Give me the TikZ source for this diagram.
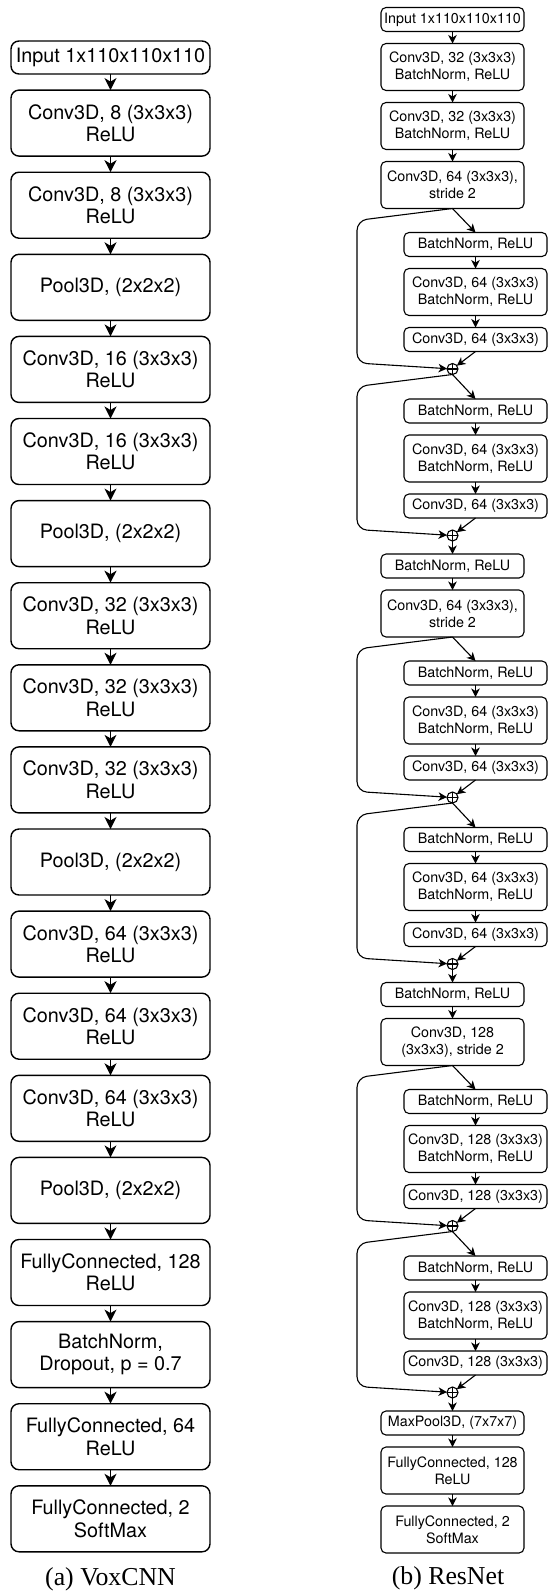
\documentclass[tikz,border=0pt]{standalone}
\usepackage{fontspec}
\setmainfont{TeX Gyre Heros}
\newfontfamily\capfont{Liberation Serif}
\usetikzlibrary{arrows.meta,positioning,calc}

\begin{document}
\begin{tikzpicture}[x=1pt, y=-1pt,
  every node/.style={outer sep=0pt},
  box/.style={draw, rounded corners=8pt, line width=1.4pt, align=center, inner sep=0pt,
    minimum width=199pt, minimum height=66pt, font=\fontsize{19.8}{22.3}\selectfont},
  inbox/.style={box, minimum height=33pt},
  rbox/.style={draw, rounded corners=5pt, line width=1.1pt, align=center, inner sep=0pt,
    minimum width=143pt, minimum height=47pt, font=\fontsize{14.3}{16.7}\selectfont},
  rthin/.style={rbox, minimum height=24pt},
  add/.style={draw, circle, line width=1.1pt, minimum size=11pt, inner sep=0pt,
    path picture={\draw[line width=1.1pt] (path picture bounding box.north) -- (path picture bounding box.south)
      (path picture bounding box.west) -- (path picture bounding box.east);}},
  arr/.style={-{Stealth[length=12pt, width=12pt, inset=3.5pt]}, line width=1.4pt},
  rarr/.style={-{Stealth[length=8.5pt, width=8.5pt, inset=2.5pt]}, line width=1.1pt},
  skip/.style={rarr, rounded corners=10pt},
  captext/.style={font=\capfont\fontsize{25.8}{30}\selectfont}
]
  \useasboundingbox (0,0) rectangle (548,1592);

  % (a) VoxCNN
  \node[inbox] (l0) at (110.5,57.5) {Input 1x110x110x110};
  \node[box, below=16.1pt of l0] (l1) {Conv3D, 8 (3x3x3)\\ReLU};
  \node[box, below=16.1pt of l1] (l2) {Conv3D, 8 (3x3x3)\\ReLU};
  \node[box, below=16.1pt of l2] (l3) {Pool3D, (2x2x2)};
  \node[box, below=16.1pt of l3] (l4) {Conv3D, 16 (3x3x3)\\ReLU};
  \node[box, below=16.1pt of l4] (l5) {Conv3D, 16 (3x3x3)\\ReLU};
  \node[box, below=16.1pt of l5] (l6) {Pool3D, (2x2x2)};
  \node[box, below=16.1pt of l6] (l7) {Conv3D, 32 (3x3x3)\\ReLU};
  \node[box, below=16.1pt of l7] (l8) {Conv3D, 32 (3x3x3)\\ReLU};
  \node[box, below=16.1pt of l8] (l9) {Conv3D, 32 (3x3x3)\\ReLU};
  \node[box, below=16.1pt of l9] (l10) {Pool3D, (2x2x2)};
  \node[box, below=16.1pt of l10] (l11) {Conv3D, 64 (3x3x3)\\ReLU};
  \node[box, below=16.1pt of l11] (l12) {Conv3D, 64 (3x3x3)\\ReLU};
  \node[box, below=16.1pt of l12] (l13) {Conv3D, 64 (3x3x3)\\ReLU};
  \node[box, below=16.1pt of l13] (l14) {Pool3D, (2x2x2)};
  \node[box, below=16.1pt of l14] (l15) {FullyConnected, 128\\ReLU};
  \node[box, below=16.1pt of l15] (l16) {BatchNorm,\\Dropout, p = 0.7};
  \node[box, below=16.1pt of l16] (l17) {FullyConnected, 64\\ReLU};
  \node[box, below=16.1pt of l17] (l18) {FullyConnected, 2\\SoftMax};

  \draw[arr] (l0) -- (l1);   \draw[arr] (l1) -- (l2);   \draw[arr] (l2) -- (l3);
  \draw[arr] (l3) -- (l4);   \draw[arr] (l4) -- (l5);   \draw[arr] (l5) -- (l6);
  \draw[arr] (l6) -- (l7);   \draw[arr] (l7) -- (l8);   \draw[arr] (l8) -- (l9);
  \draw[arr] (l9) -- (l10);  \draw[arr] (l10) -- (l11); \draw[arr] (l11) -- (l12);
  \draw[arr] (l12) -- (l13); \draw[arr] (l13) -- (l14); \draw[arr] (l14) -- (l15);
  \draw[arr] (l15) -- (l16); \draw[arr] (l16) -- (l17); \draw[arr] (l17) -- (l18);

  % (b) ResNet, main column
  \node[rthin] (rin) at (452.5,19.5) {Input 1x110x110x110};
  \node[rbox, below=12pt of rin] (rc1) {Conv3D, 32 (3x3x3)\\BatchNorm, ReLU};
  \node[rbox, below=12pt of rc1] (rc2) {Conv3D, 32 (3x3x3)\\BatchNorm, ReLU};
  \node[rbox, below=12pt of rc2] (rs1) {Conv3D, 64 (3x3x3),\\stride 2};

  % residual blocks 1 and 2
  \node[rthin, below=24pt of rs1, xshift=23pt] (b1n) {BatchNorm, ReLU};
  \node[rbox, below=12pt of b1n] (b1c) {Conv3D, 64 (3x3x3)\\BatchNorm, ReLU};
  \node[rthin, below=12pt of b1c] (b1v) {Conv3D, 64 (3x3x3)};
  \node[add, below=12pt of b1v, xshift=-23pt] (o1) {};
  \node[rthin, below=24.5pt of o1, xshift=23pt] (b2n) {BatchNorm, ReLU};
  \node[rbox, below=12pt of b2n] (b2c) {Conv3D, 64 (3x3x3)\\BatchNorm, ReLU};
  \node[rthin, below=12pt of b2c] (b2v) {Conv3D, 64 (3x3x3)};
  \node[add, below=12pt of b2v, xshift=-23pt] (o2) {};

  \node[rthin, below=13pt of o2] (rn1) {BatchNorm, ReLU};
  \node[rbox, below=12pt of rn1] (rs2) {Conv3D, 64 (3x3x3),\\stride 2};

  % residual blocks 3 and 4
  \node[rthin, below=24pt of rs2, xshift=23pt] (b3n) {BatchNorm, ReLU};
  \node[rbox, below=12pt of b3n] (b3c) {Conv3D, 64 (3x3x3)\\BatchNorm, ReLU};
  \node[rthin, below=12pt of b3c] (b3v) {Conv3D, 64 (3x3x3)};
  \node[add, below=12pt of b3v, xshift=-23pt] (o3) {};
  \node[rthin, below=24.5pt of o3, xshift=23pt] (b4n) {BatchNorm, ReLU};
  \node[rbox, below=12pt of b4n] (b4c) {Conv3D, 64 (3x3x3)\\BatchNorm, ReLU};
  \node[rthin, below=12pt of b4c] (b4v) {Conv3D, 64 (3x3x3)};
  \node[add, below=12pt of b4v, xshift=-23pt] (o4) {};

  \node[rthin, below=13pt of o4] (rn2) {BatchNorm, ReLU};
  \node[rbox, below=12pt of rn2] (rs3) {Conv3D, 128\\(3x3x3), stride 2};

  % residual blocks 5 and 6
  \node[rthin, below=24pt of rs3, xshift=23pt] (b5n) {BatchNorm, ReLU};
  \node[rbox, below=12pt of b5n] (b5c) {Conv3D, 128 (3x3x3)\\BatchNorm, ReLU};
  \node[rthin, below=12pt of b5c] (b5v) {Conv3D, 128 (3x3x3)};
  \node[add, below=12pt of b5v, xshift=-23pt] (o5) {};
  \node[rthin, below=24.5pt of o5, xshift=23pt] (b6n) {BatchNorm, ReLU};
  \node[rbox, below=12pt of b6n] (b6c) {Conv3D, 128 (3x3x3)\\BatchNorm, ReLU};
  \node[rthin, below=12pt of b6c] (b6v) {Conv3D, 128 (3x3x3)};
  \node[add, below=12pt of b6v, xshift=-23pt] (o6) {};

  \node[rthin, below=13pt of o6] (rmp) {MaxPool3D, (7x7x7)};
  \node[rbox, below=12pt of rmp] (rfc1) {FullyConnected, 128\\ReLU};
  \node[rbox, below=12pt of rfc1] (rfc2) {FullyConnected, 2\\SoftMax};

  % skip lines run down at this x
  \coordinate (lx) at (357,0);

  \draw[rarr] (rin) -- (rc1); \draw[rarr] (rc1) -- (rc2); \draw[rarr] (rc2) -- (rs1);
  \draw[rarr] (rs1.south) -- (b1n.north); \draw[rarr] (b1n) -- (b1c); \draw[rarr] (b1c) -- (b1v);
  \draw[rarr] (b1v.south) -- (o1);
  \draw[skip] (rs1.south) -- ($(lx |- rs1.south)+(0,12)$) -- ($(lx |- o1)+(0,-6)$) -- (o1);
  \draw[rarr] (o1.south) -- (b2n.north); \draw[rarr] (b2n) -- (b2c); \draw[rarr] (b2c) -- (b2v);
  \draw[rarr] (b2v.south) -- (o2);
  \draw[skip] (o1.south) -- ($(lx |- o1.south)+(0,12)$) -- ($(lx |- o2)+(0,-6)$) -- (o2);
  \draw[rarr] (o2) -- (rn1); \draw[rarr] (rn1) -- (rs2);

  \draw[rarr] (rs2.south) -- (b3n.north); \draw[rarr] (b3n) -- (b3c); \draw[rarr] (b3c) -- (b3v);
  \draw[rarr] (b3v.south) -- (o3);
  \draw[skip] (rs2.south) -- ($(lx |- rs2.south)+(0,12)$) -- ($(lx |- o3)+(0,-6)$) -- (o3);
  \draw[rarr] (o3.south) -- (b4n.north); \draw[rarr] (b4n) -- (b4c); \draw[rarr] (b4c) -- (b4v);
  \draw[rarr] (b4v.south) -- (o4);
  \draw[skip] (o3.south) -- ($(lx |- o3.south)+(0,12)$) -- ($(lx |- o4)+(0,-6)$) -- (o4);
  \draw[rarr] (o4) -- (rn2); \draw[rarr] (rn2) -- (rs3);

  \draw[rarr] (rs3.south) -- (b5n.north); \draw[rarr] (b5n) -- (b5c); \draw[rarr] (b5c) -- (b5v);
  \draw[rarr] (b5v.south) -- (o5);
  \draw[skip] (rs3.south) -- ($(lx |- rs3.south)+(0,12)$) -- ($(lx |- o5)+(0,-6)$) -- (o5);
  \draw[rarr] (o5.south) -- (b6n.north); \draw[rarr] (b6n) -- (b6c); \draw[rarr] (b6c) -- (b6v);
  \draw[rarr] (b6v.south) -- (o6);
  \draw[skip] (o5.south) -- ($(lx |- o5.south)+(0,12)$) -- ($(lx |- o6)+(0,-6)$) -- (o6);
  \draw[rarr] (o6) -- (rmp); \draw[rarr] (rmp) -- (rfc1); \draw[rarr] (rfc1) -- (rfc2);

  % captions
  \node[captext] (capa) at (110.5,1579) {(a) VoxCNN};
  \node[captext] (capb) at (448,1578) {(b) ResNet};
\end{tikzpicture}
\end{document}
